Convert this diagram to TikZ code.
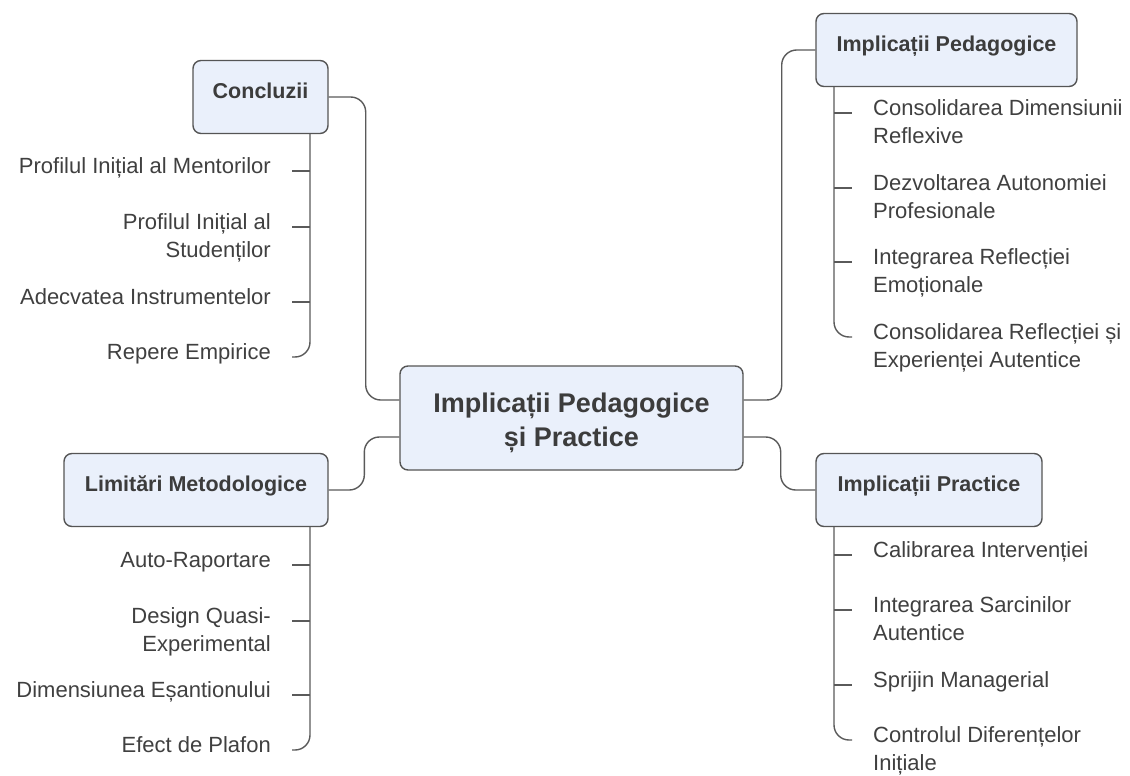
\documentclass[tikz,border=0pt]{standalone}
\usepackage{fontspec}
\setmainfont{Liberation Sans}
\usetikzlibrary{calc}
\definecolor{boxfill}{HTML}{EAF0FB}
\definecolor{boxline}{HTML}{555555}
\definecolor{headink}{HTML}{3C3C3C}
\definecolor{leafink}{HTML}{404040}
\definecolor{wire}{HTML}{5A5A5A}
% multi-line labels whose baseline is the first line
\newcommand{\lcol}[1]{\begin{tabular}[t]{@{}l@{}}#1\end{tabular}}
\newcommand{\rcol}[1]{\begin{tabular}[t]{@{}r@{}}#1\end{tabular}}
\newcommand{\ccol}[1]{\begin{tabular}[t]{@{}c@{}}#1\end{tabular}}

\begin{document}
\begin{tikzpicture}[x=1pt,y=-1pt,
  topic/.style={draw=boxline, line width=1.4pt, fill=boxfill, rounded corners=8pt,
    text=headink, font=\fontsize{21.5}{26}\selectfont\bfseries,
    minimum height=73pt, inner sep=0pt, text height=15.5pt, text depth=12pt},
  core/.style={draw=boxline, line width=1.4pt, fill=boxfill, rounded corners=8pt,
    text=headink, font=\fontsize{27}{34}\selectfont\bfseries,
    minimum width=343pt, minimum height=104pt, inner sep=0pt,
    text height=20pt, text depth=32pt},
  leafL/.style={anchor=base west, inner sep=0pt, text=leafink, font=\fontsize{22}{28}\selectfont},
  leafR/.style={anchor=base east, inner sep=0pt, text=leafink, font=\fontsize{22}{28}\selectfont},
  wire/.style={draw=wire, line width=1.4pt, rounded corners=15pt},
  twig/.style={draw=wire, line width=1.4pt}
]
\useasboundingbox (0,0) rectangle (1130,776);
\fill[white] (0,0) rectangle (1130,776);

% central topic and its four branches
\node[core] (core) at (571.5,418) {\ccol{Implicații Pedagogice\\și Practice}};
\node[topic, minimum width=135pt] (conc) at (260.5,97) {Concluzii};
\node[topic, minimum width=261pt] (ped) at (946.5,50) {Implicații Pedagogice};
\node[topic, minimum width=226pt] (prac) at (929,490) {Implicații Practice};
\node[topic, minimum width=264pt] (lim) at (196,490) {Limitări Metodologice};

\coordinate (coreL1) at ($(core.west)+(0,-18)$);
\coordinate (coreL2) at ($(core.west)+(0,19)$);
\coordinate (coreR1) at ($(core.east)+(0,-18)$);
\coordinate (coreR2) at ($(core.east)+(0,19)$);

\draw[wire] (conc.east) -- ++(37,0) |- (coreL1);
\draw[wire] (coreL2) -- ++(-35,0) |- (lim.east);
\draw[wire] (coreR1) -- ++(38,0) |- (ped.west);
\draw[wire] (coreR2) -- ++(37,0) |- (prac.west);

% Concluzii leaves
\node[leafR] (c1) at (271,173.5) {Profilul Inițial al Mentorilor};
\node[leafR] (c2) at (271,229.5) {\rcol{Profilul Inițial al\\Studenților}};
\node[leafR] (c3) at (271,304.5) {Adecvatea Instrumentelor};
\node[leafR] (c4) at (271,359.5) {Repere Empirice};
\coordinate (c1t) at (310,171);
\coordinate (c2t) at (310,227);
\coordinate (c3t) at (310,302);
\coordinate (c4t) at (310,357);
\coordinate (c4e) at (292,357);
\draw[wire] (conc.south -| c4t) |- (c4e);
\foreach \t in {c1t,c2t,c3t} \draw[twig] (\t) -- ++(-18,0);

% Limitari Metodologice leaves
\node[leafR] (l1) at (271,567.5) {Auto-Raportare};
\node[leafR] (l2) at (271,623.5) {\rcol{Design Quasi-\\Experimental}};
\node[leafR] (l3) at (271,697.5) {Dimensiunea Eșantionului};
\node[leafR] (l4) at (271,752.5) {Efect de Plafon};
\coordinate (l1t) at (310,565);
\coordinate (l2t) at (310,621);
\coordinate (l3t) at (310,695);
\coordinate (l4t) at (310,750);
\coordinate (l4e) at (292,750);
\draw[wire] (lim.south -| l4t) |- (l4e);
\foreach \t in {l1t,l2t,l3t} \draw[twig] (\t) -- ++(-18,0);

% Implicatii Pedagogice leaves
\node[leafL] (p1) at (873,115.5) {\lcol{Consolidarea Dimensiunii\\Reflexive}};
\node[leafL] (p2) at (873,190.5) {\lcol{Dezvoltarea Autonomiei\\Profesionale}};
\node[leafL] (p3) at (873,264.5) {\lcol{Integrarea Reflecției\\Emoționale}};
\node[leafL] (p4) at (873,339.5) {\lcol{Consolidarea Reflecției și\\Experienței Autentice}};
\coordinate (p1t) at (834,113);
\coordinate (p2t) at (834,188);
\coordinate (p3t) at (834,262);
\coordinate (p4t) at (834,337);
\coordinate (p4e) at (852,337);
\draw[wire] (ped.south -| p4t) |- (p4e);
\foreach \t in {p1t,p2t,p3t} \draw[twig] (\t) -- ++(18,0);

% Implicatii Practice leaves
\node[leafL] (r1) at (873,557.5) {Calibrarea Intervenției};
\node[leafL] (r2) at (873,612.5) {\lcol{Integrarea Sarcinilor\\Autentice}};
\node[leafL] (r3) at (873,687.5) {Sprijin Managerial};
\node[leafL] (r4) at (873,742.5) {\lcol{Controlul Diferențelor\\Inițiale}};
\coordinate (r1t) at (834,555);
\coordinate (r2t) at (834,610);
\coordinate (r3t) at (834,685);
\coordinate (r4t) at (834,740);
\coordinate (r4e) at (852,740);
\draw[wire] (prac.south -| r4t) |- (r4e);
\foreach \t in {r1t,r2t,r3t} \draw[twig] (\t) -- ++(18,0);
\end{tikzpicture}
\end{document}
